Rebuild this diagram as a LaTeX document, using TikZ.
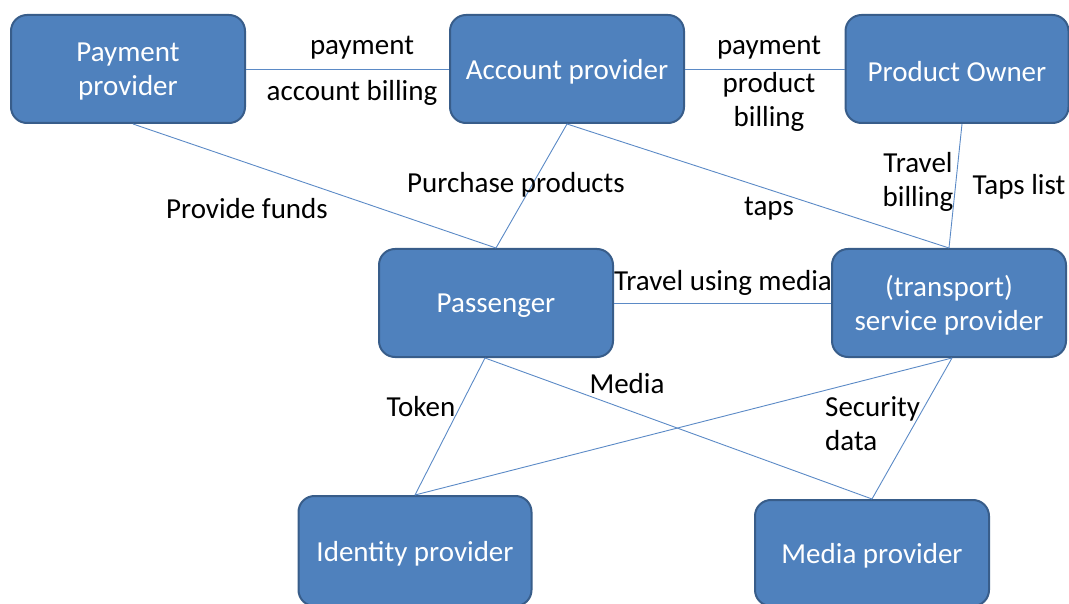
\documentclass[tikz,border=0pt]{standalone}
\usepackage{fontspec}
\setmainfont{Carlito}
\definecolor{boxfill}{HTML}{4F81BD}
\definecolor{boxdraw}{HTML}{385D8A}
\definecolor{linkc}{HTML}{5B8AC6}
\begin{document}
\begin{tikzpicture}[x=1pt,y=-1pt,
  box/.style={draw=boxdraw,line width=2pt,fill=boxfill,rounded corners=16pt,
    minimum width=#1,minimum height=108pt,inner sep=0pt},
  box/.default=234pt,
  boxtext/.style={text=white,font=\fontsize{29}{34}\selectfont,align=center,inner sep=0pt,yshift=-2.5pt},
  link/.style={draw=linkc,line width=0.9pt},
  lbl/.style={font=\fontsize{29}{34}\selectfont,text=black,inner sep=0pt,align=center}]
\useasboundingbox (0,0) rectangle (1069,604);
\node[box,label={[boxtext]center:{Payment\\provider}}] (pay) at (128,69) {};
\node[box,label={[boxtext]center:{Account provider}}] (acc) at (567,69) {};
\node[box=223pt,label={[boxtext]center:{Product Owner}}] (own) at (957,69) {};
\node[box,label={[boxtext]center:{Passenger}}] (pas) at (496,303) {};
\node[box,label={[boxtext]center:{(transport)\\service provider}}] (svc) at (949,303) {};
\node[box=233pt,minimum height=110pt,label={[boxtext]center:{Identity provider}}] (idp) at (415,551) {};
\node[box,minimum height=106pt,label={[boxtext]center:{Media provider}}] (med) at (872,553) {};
% connectors
\draw[link] (pay.east) -- (acc.west);
\draw[link] (acc.east) -- (own.west);
\draw[link] ([xshift=5pt]pay.south) -- (pas.north);
\draw[link] (acc.south) -- (pas.north);
\draw[link] (acc.south) -- (svc.north);
\draw[link] ([xshift=5pt]own.south) -- (svc.north);
\draw[link] (pas.east) -- (svc.west);
\draw[link] ([xshift=-11pt]pas.south) -- (idp.north);
\draw[link] ([xshift=-11pt]pas.south) -- (med.north);
\draw[link] ([xshift=3pt]svc.south) -- (idp.north);
\draw[link] ([xshift=3pt]svc.south) -- (med.north);
% labels
\node[lbl] (l1) at (362,48) {payment};
\node[lbl] (l2) at (352,93) {account billing};
\node[lbl] (l3) at (769,48) {payment};
\node[lbl] (l4) at (769,102) {product\\billing};
\node[lbl] (l5) at (247,209) {Provide funds};
\node[lbl] (l6) at (516,185) {Purchase products};
\node[lbl] (l7) at (769,209) {taps};
\node[lbl] (l8) at (918,182) {Travel\\billing};
\node[lbl] (l9) at (1019,187) {Taps list};
\node[lbl] (l10) at (723,283) {Travel using media};
\node[lbl] (l11) at (421,407) {Token};
\node[lbl] (l12) at (627,384) {Media};
\node[lbl,align=left,anchor=west] (l13) at (825,424) {Security\\data};
\end{tikzpicture}
\end{document}
